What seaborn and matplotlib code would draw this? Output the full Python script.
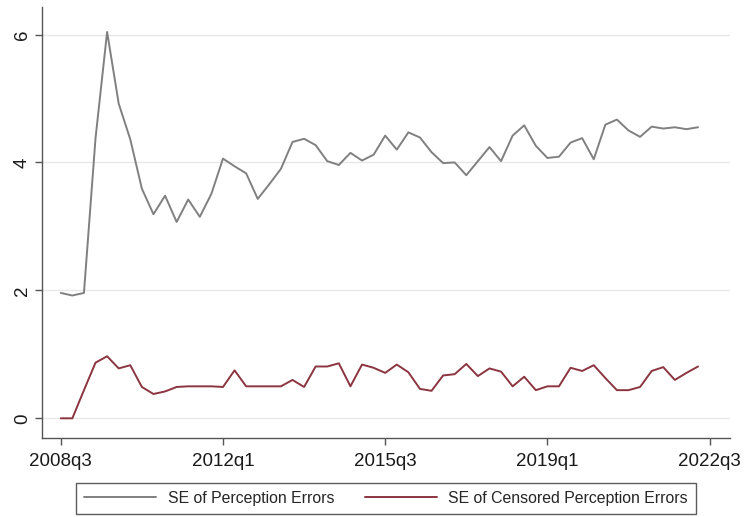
import numpy as np
import pandas as pd
import matplotlib
matplotlib.use("Agg")
import matplotlib.pyplot as plt
import seaborn as sns
from matplotlib.lines import Line2D

# ---- data ----
quarter_index = list(range(56))  # 2008q3 ... 2022q2
se_perception = [1.96, 1.92, 1.96, 4.38, 6.04, 4.92, 4.36, 3.59, 3.19, 3.48,
                 3.07, 3.42, 3.15, 3.51, 4.06, 3.94, 3.83, 3.43, 3.66, 3.90,
                 4.32, 4.37, 4.27, 4.02, 3.96, 4.15, 4.03, 4.12, 4.42, 4.20,
                 4.47, 4.39, 4.16, 3.99, 4.00, 3.80, 4.02, 4.24, 4.02, 4.42,
                 4.58, 4.26, 4.07, 4.09, 4.31, 4.38, 4.05, 4.59, 4.67, 4.50,
                 4.40, 4.56, 4.53, 4.55, 4.52, 4.55]
se_censored = [0.00, 0.00, 0.44, 0.87, 0.97, 0.78, 0.83, 0.49, 0.38, 0.42,
               0.49, 0.50, 0.50, 0.50, 0.49, 0.75, 0.50, 0.50, 0.50, 0.50,
               0.60, 0.49, 0.81, 0.81, 0.86, 0.50, 0.84, 0.79, 0.71, 0.84,
               0.72, 0.46, 0.43, 0.67, 0.69, 0.85, 0.66, 0.78, 0.73, 0.50,
               0.65, 0.44, 0.50, 0.50, 0.79, 0.74, 0.83, 0.63, 0.44, 0.44,
               0.49, 0.74, 0.80, 0.60, 0.71, 0.81]
series_names = ["SE of Perception Errors", "SE of Censored Perception Errors"]
series_colors = ["#808080", "#8b3540"]
xtick_pos = [0, 14, 28, 42, 56]
xtick_labels = ["2008q3", "2012q1", "2015q3", "2019q1", "2022q3"]
ytick_vals = [0, 2, 4, 6]

df = pd.DataFrame({
    "q": quarter_index * 2,
    "value": se_perception + se_censored,
    "series": [series_names[0]] * len(se_perception) + [series_names[1]] * len(se_censored),
})

sns.set_theme(style="white")
plt.rcParams["font.family"] = ["Liberation Sans", "DejaVu Sans"]

W, H = 745, 517
fig = plt.figure(figsize=(W / 100, H / 100), dpi=100)
fig.patch.set_facecolor("white")
left, right, top, bottom = 42, 730, 7, 437.5
ax = fig.add_axes([left / W, (H - bottom) / H, (right - left) / W, (bottom - top) / H])

for y in ytick_vals:
    ax.axhline(y, color="#e8e8e8", lw=1.0, zorder=0)

sns.lineplot(data=df, x="q", y="value", hue="series", palette=dict(zip(series_names, series_colors)),
             linewidth=1.4, ax=ax, legend=False)

ax.set_xlim(-1.62, 57.76)
ax.set_ylim(-0.30, 6.43)
ax.set_xticks(xtick_pos)
ax.set_xticklabels(xtick_labels)
ax.set_yticks(ytick_vals)
ax.set_yticklabels([str(v) for v in ytick_vals], rotation=90, va="center")
ax.set_xlabel("")
ax.set_ylabel("")

for s in ["top", "right"]:
    ax.spines[s].set_visible(False)
for s in ["left", "bottom"]:
    ax.spines[s].set_color("#555555")
    ax.spines[s].set_linewidth(1.0)
ax.tick_params(axis="both", direction="out", length=5, width=1.0, color="#555555",
               labelsize=13.5, labelcolor="#1a1a1a", left=True, bottom=True)
ax.tick_params(axis="x", pad=6)
ax.tick_params(axis="y", pad=3)
ax.grid(False)

handles = [Line2D([], [], color=c, lw=1.4) for c in series_colors]
leg = fig.legend(handles, series_names, loc="center", bbox_to_anchor=(386 / W, (H - 498.5) / H),
                 ncol=2, frameon=True, fancybox=False, fontsize=11.4, handlelength=4.55,
                 handletextpad=0.7, columnspacing=1.95, borderpad=0.5, edgecolor="#333333")
leg.get_frame().set_linewidth(1.0)
leg.get_frame().set_boxstyle("square", pad=0.0)

fig.savefig("out.png", dpi=100, facecolor="white")
